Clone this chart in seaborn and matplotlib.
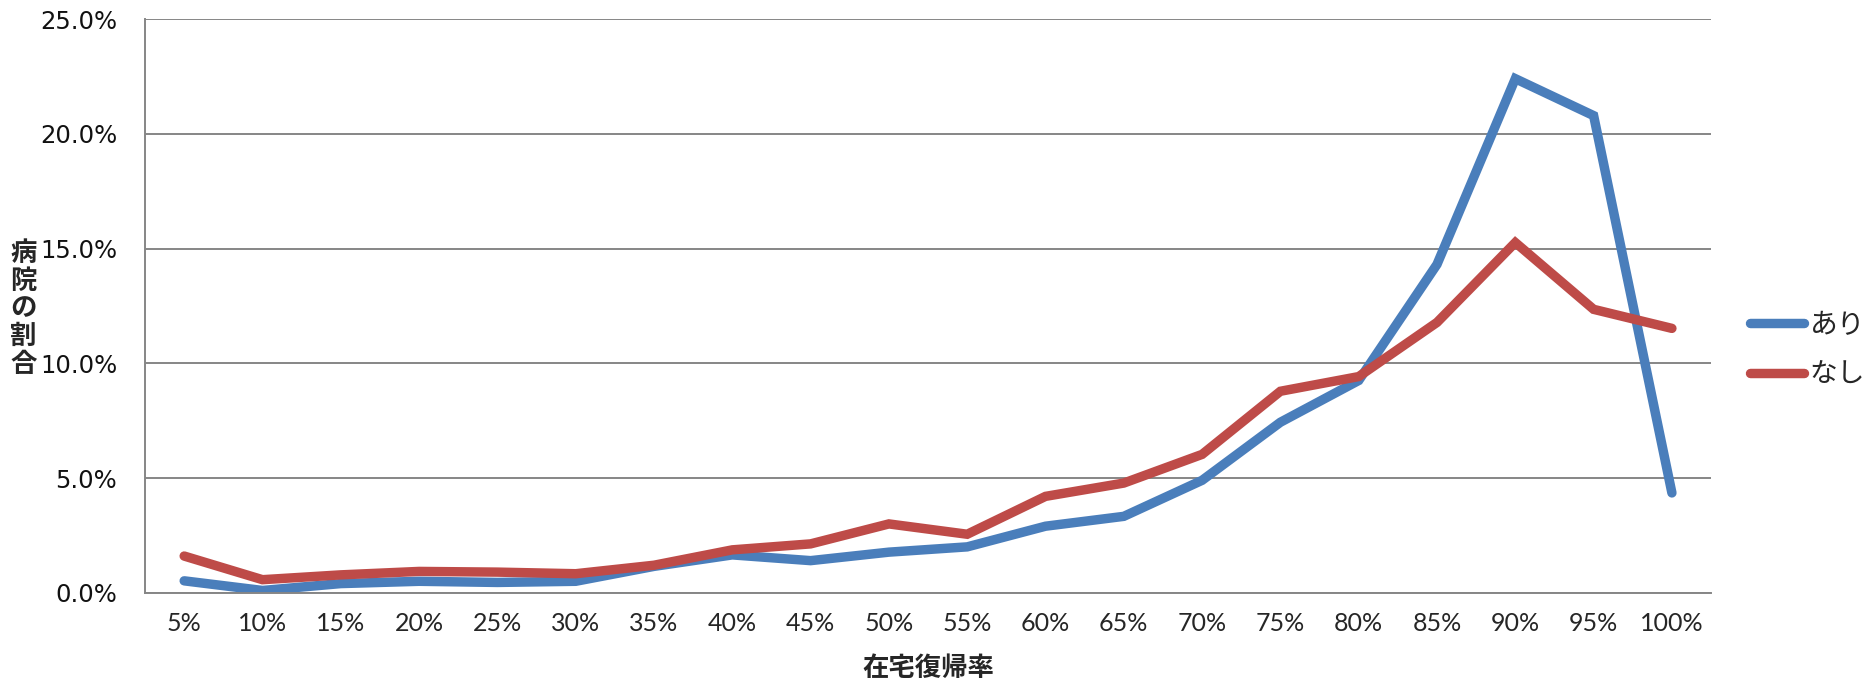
import numpy as np
import pandas as pd
import matplotlib
matplotlib.use("Agg")
import matplotlib.pyplot as plt
import seaborn as sns
from matplotlib.ticker import FixedLocator, PercentFormatter

categories = ["5%", "10%", "15%", "20%", "25%", "30%", "35%", "40%", "45%", "50%",
              "55%", "60%", "65%", "70%", "75%", "80%", "85%", "90%", "95%", "100%"]
ari = [0.52, 0.10, 0.40, 0.50, 0.45, 0.50, 1.15, 1.65, 1.40, 1.77,
       2.00, 2.90, 3.33, 4.90, 7.43, 9.25, 14.31, 22.40, 20.79, 4.35]
nashi = [1.60, 0.57, 0.78, 0.93, 0.90, 0.83, 1.20, 1.87, 2.13, 3.00,
         2.55, 4.20, 4.78, 6.03, 8.78, 9.42, 11.78, 15.26, 12.35, 11.52]
series_names = ["あり", "なし"]
yticks = [0, 5, 10, 15, 20, 25]

df = pd.DataFrame({
    "在宅復帰率": categories * 2,
    "pos": list(range(len(categories))) * 2,
    "割合": ari + nashi,
    "区分": [series_names[0]] * len(categories) + [series_names[1]] * len(categories),
})

sns.set_theme(style="white")
plt.rcParams["font.family"] = ["DejaVu Sans", "Noto Sans CJK JP"]

fig = plt.figure(figsize=(18.69, 6.79), dpi=100)
ax = fig.add_axes([0.0776, 0.127, 0.8379, 0.845])

palette = {"あり": "#4A7EBB", "なし": "#BE4B48"}
sns.lineplot(data=df, x="pos", y="割合", hue="区分", palette=palette,
             linewidth=6.8, ax=ax, legend=True, sort=False)
for ln in ax.get_lines():
    ln.set_solid_capstyle("round")
    ln.set_solid_joinstyle("miter")

ax.set_xlim(-0.5, len(categories) - 0.5)
ax.set_ylim(0, 25)
ax.set_yticks(yticks)
ax.yaxis.set_major_formatter(PercentFormatter(decimals=1))
ax.set_xticks(range(len(categories)))
ax.set_xticklabels(categories, family=["Lato", "DejaVu Sans"], fontsize=18)
ax.xaxis.set_minor_locator(FixedLocator(np.arange(-0.5, len(categories), 1.0)))
ax.tick_params(axis="x", which="major", length=0, pad=14)
ax.tick_params(axis="x", which="minor", length=9, width=1.3, color="#868686", direction="out")
ax.tick_params(axis="y", which="major", length=8, width=1.3, color="#868686",
               direction="out", labelsize=17.5, pad=12)
for lab in ax.get_yticklabels():
    lab.set_color("#111111")

ax.grid(axis="y", color="#868686", linewidth=1.4)
ax.grid(axis="x", visible=False)
for s in ["top", "right"]:
    ax.spines[s].set_visible(False)
for s in ["left", "bottom"]:
    ax.spines[s].set_color("#868686")
    ax.spines[s].set_linewidth(1.4)
ax.set_axisbelow(True)

ax.set_xlabel("在宅復帰率", family=["Noto Sans CJK JP"], fontweight="bold", fontsize=19, labelpad=14)
ax.set_ylabel("")
fig.text(0.0125, 0.545, "病\n院\nの\n割\n合", family=["Noto Sans CJK JP"], fontweight="bold",
         fontsize=19, ha="center", va="center", linespacing=1.04)

handles, labels = ax.get_legend_handles_labels()
for h in handles:
    h.set_linewidth(6.8)
    h.set_solid_capstyle("round")
ax.legend(handles, labels, loc="center left", bbox_to_anchor=(0.923, 0.485),
          bbox_transform=fig.transFigure, frameon=False, handlelength=1.95,
          handletextpad=0.2, labelspacing=0.7,
          prop={"family": "Noto Sans CJK JP", "size": 20})

fig.savefig("out.png", dpi=100)
